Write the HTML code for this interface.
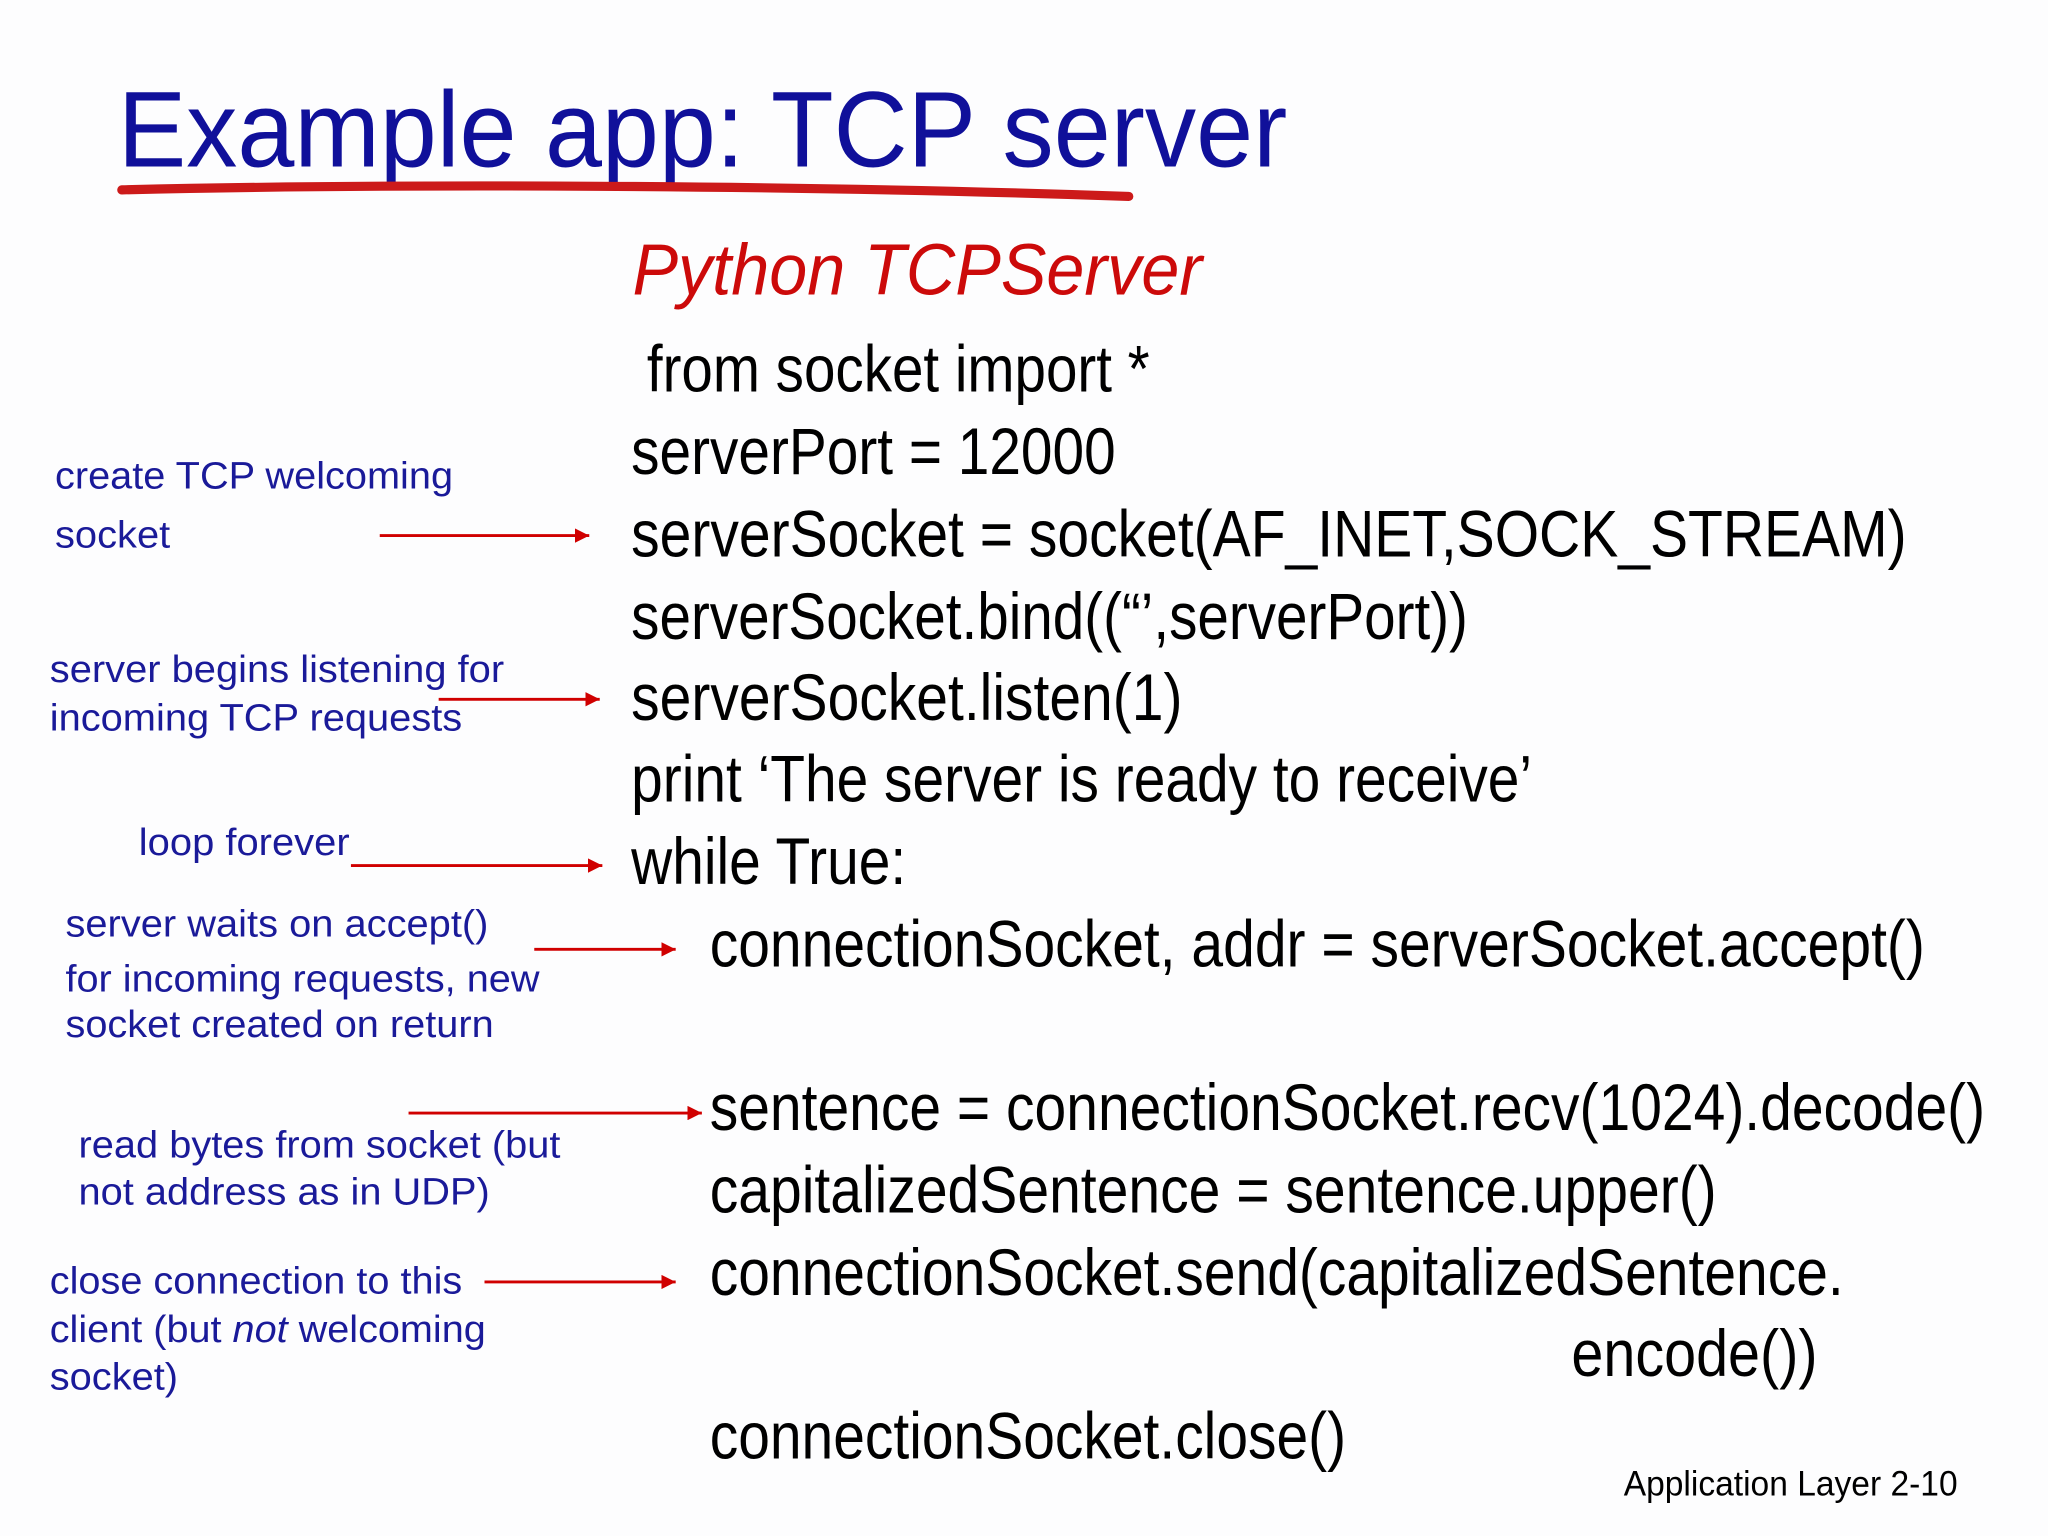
<!DOCTYPE html>
<html><head><meta charset="utf-8"><style>
html,body{margin:0;padding:0;background:#fff;}
svg{display:block;}
text{font-family:"Liberation Sans",Arial,sans-serif;}
.c{font-size:50px;fill:#000;}
.a{font-size:29px;fill:#1a1a99;}
.r{stroke:#d00000;stroke-width:2.2;fill:none;}
</style></head><body>
<svg width="2048" height="1536" viewBox="0 0 1564 1173" preserveAspectRatio="none" xmlns="http://www.w3.org/2000/svg">
<defs>
<marker id="ah" viewBox="0 0 10 10" refX="10" refY="5" markerWidth="5" markerHeight="5" orient="auto"><path d="M0,0L10,5L0,10z" fill="#d00000"/></marker>
</defs>
<rect width="1564" height="1173" fill="#fdfdfe"/>
<text x="90" y="127" font-size="82" fill="#10109a" textLength="893" lengthAdjust="spacingAndGlyphs">Example app: TCP server</text>
<path d="M93,145 C300,140 600,141 862,150" stroke="#cc1a1a" stroke-width="7" stroke-linecap="round" fill="none"/>
<text x="483" y="225" font-size="55" font-style="italic" fill="#cc0a0a" textLength="435" lengthAdjust="spacingAndGlyphs">Python TCPServer</text>

<text class="c" x="494" y="299" textLength="384" lengthAdjust="spacingAndGlyphs">from socket import *</text>
<text class="c" x="482" y="362" textLength="370" lengthAdjust="spacingAndGlyphs">serverPort = 12000</text>
<text class="c" x="482" y="425" textLength="974" lengthAdjust="spacingAndGlyphs">serverSocket = socket(AF_INET,SOCK_STREAM)</text>
<text class="c" x="482" y="488" textLength="639" lengthAdjust="spacingAndGlyphs">serverSocket.bind((“’,serverPort))</text>
<text class="c" x="482" y="550" textLength="421" lengthAdjust="spacingAndGlyphs">serverSocket.listen(1)</text>
<text class="c" x="482" y="612" textLength="688" lengthAdjust="spacingAndGlyphs">print ‘The server is ready to receive’</text>
<text class="c" x="482" y="675" textLength="210" lengthAdjust="spacingAndGlyphs">while True:</text>
<text class="c" x="542" y="738" textLength="928" lengthAdjust="spacingAndGlyphs">connectionSocket, addr = serverSocket.accept()</text>
<text class="c" x="542" y="863" textLength="974" lengthAdjust="spacingAndGlyphs">sentence = connectionSocket.recv(1024).decode()</text>
<text class="c" x="542" y="926" textLength="769" lengthAdjust="spacingAndGlyphs">capitalizedSentence = sentence.upper()</text>
<text class="c" x="542" y="989" textLength="866" lengthAdjust="spacingAndGlyphs">connectionSocket.send(capitalizedSentence.</text>
<text class="c" x="1200" y="1051" textLength="188" lengthAdjust="spacingAndGlyphs">encode())</text>
<text class="c" x="542" y="1114" textLength="486" lengthAdjust="spacingAndGlyphs">connectionSocket.close()</text>

<text class="a" x="42" y="373" textLength="304" lengthAdjust="spacingAndGlyphs">create TCP welcoming</text>
<text class="a" x="42" y="418" textLength="88" lengthAdjust="spacingAndGlyphs">socket</text>
<text class="a" x="38" y="521" textLength="347" lengthAdjust="spacingAndGlyphs">server begins listening for</text>
<text class="a" x="38" y="558" textLength="315" lengthAdjust="spacingAndGlyphs">incoming TCP requests</text>
<text class="a" x="106" y="653" textLength="161" lengthAdjust="spacingAndGlyphs">loop forever</text>
<text class="a" x="50" y="715" textLength="323" lengthAdjust="spacingAndGlyphs">server waits on accept()</text>
<text class="a" x="50" y="757" textLength="362" lengthAdjust="spacingAndGlyphs">for incoming requests, new</text>
<text class="a" x="50" y="792" textLength="327" lengthAdjust="spacingAndGlyphs">socket created on return</text>
<text class="a" x="60" y="884" textLength="368" lengthAdjust="spacingAndGlyphs">read bytes from socket (but</text>
<text class="a" x="60" y="920" textLength="314" lengthAdjust="spacingAndGlyphs">not address as in UDP)</text>
<text class="a" x="38" y="988" textLength="315" lengthAdjust="spacingAndGlyphs">close connection to this</text>
<text class="a" x="38" y="1025" textLength="333" lengthAdjust="spacingAndGlyphs">client (but <tspan font-style="italic">not</tspan> welcoming</text>
<text class="a" x="38" y="1061" textLength="98" lengthAdjust="spacingAndGlyphs">socket)</text>

<line class="r" x1="290" y1="409" x2="450" y2="409" marker-end="url(#ah)"/>
<line class="r" x1="335" y1="534" x2="458" y2="534" marker-end="url(#ah)"/>
<line class="r" x1="268" y1="661" x2="460" y2="661" marker-end="url(#ah)"/>
<line class="r" x1="408" y1="725" x2="516" y2="725" marker-end="url(#ah)"/>
<line class="r" x1="312" y1="850" x2="536" y2="850" marker-end="url(#ah)"/>
<line class="r" x1="370" y1="979" x2="516" y2="979" marker-end="url(#ah)"/>

<text x="1240" y="1142" font-size="27" fill="#000" textLength="255" lengthAdjust="spacingAndGlyphs">Application Layer 2-10</text>
</svg>
</body></html>
